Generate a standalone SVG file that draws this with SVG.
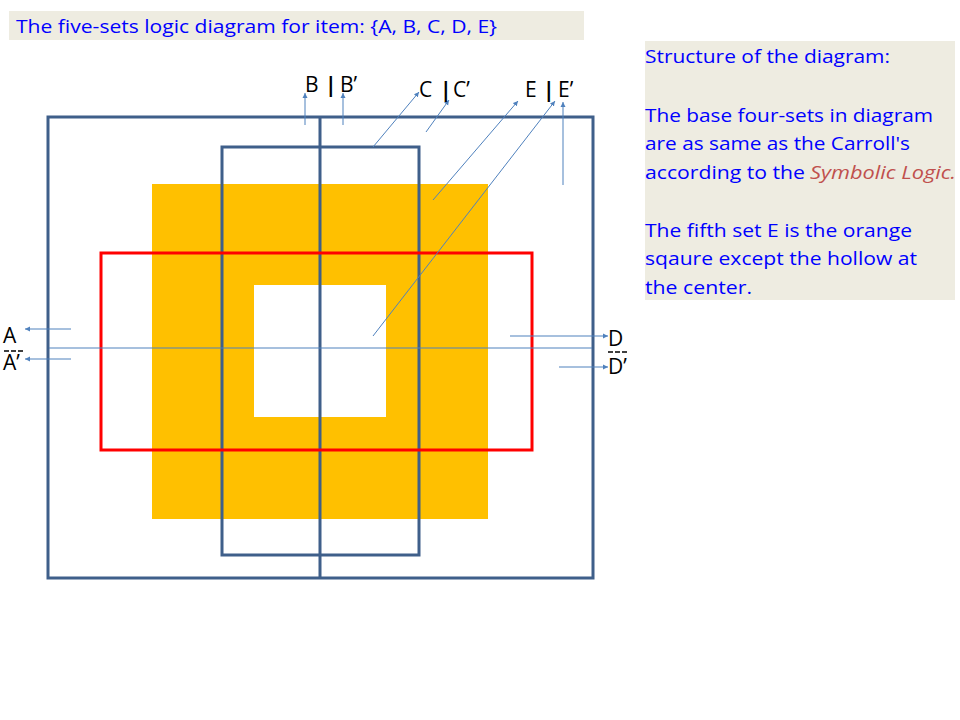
<svg xmlns="http://www.w3.org/2000/svg" width="960" height="720" viewBox="0 0 960 720">
<defs>
<marker id="ah" markerWidth="6" markerHeight="6" refX="5" refY="3" orient="auto" markerUnits="userSpaceOnUse">
<path d="M0,0.5 L5,3 L0,5.5 Z" fill="#4F81BD"/>
</marker>
<style>
.bx{fill:#EEECE1}
.bt{font-family:"Open Sans","Liberation Sans",sans-serif;font-size:19px;fill:#0000FF}
.lb{font-family:"Open Sans","Liberation Sans",sans-serif;font-size:21px;fill:#000}
.sq{fill:none;stroke:#3F5F8A;stroke-width:3}
.ar{stroke:#4F81BD;stroke-width:1;fill:none;marker-end:url(#ah)}
</style>
</defs>
<rect width="960" height="720" fill="#fff"/>
<g id="title">
<rect class="bx" x="9" y="11" width="575" height="29"/>
<text class="bt" x="16" y="33" textLength="481" lengthAdjust="spacingAndGlyphs">The five-sets logic diagram for item: {A, B, C, D, E}</text>
</g>
<g id="note">
<rect class="bx" x="645" y="41" width="310" height="259"/>
<text class="bt" x="645" y="63" textLength="245" lengthAdjust="spacingAndGlyphs">Structure of the diagram:</text>
<text class="bt" x="645" y="122" textLength="288" lengthAdjust="spacingAndGlyphs">The base four-sets in diagram</text>
<text class="bt" x="645" y="150" textLength="265" lengthAdjust="spacingAndGlyphs">are as same as the Carroll's</text>
<text class="bt" x="645" y="179" textLength="160" lengthAdjust="spacingAndGlyphs">according to the</text>
<text class="bt" x="810" y="179" textLength="146" lengthAdjust="spacingAndGlyphs" style="fill:#C0504D;font-style:italic">Symbolic Logic.</text>
<text class="bt" x="645" y="237" textLength="267" lengthAdjust="spacingAndGlyphs">The fifth set E is the orange</text>
<text class="bt" x="645" y="265" textLength="272" lengthAdjust="spacingAndGlyphs">sqaure except the hollow at</text>
<text class="bt" x="645" y="294" textLength="107" lengthAdjust="spacingAndGlyphs">the center.</text>
</g>
<g id="setE">
<path d="M152,184 H488 V519 H152 Z M254,285 V417 H386 V285 Z" fill="#FFC000" fill-rule="evenodd"/>
</g>
<g id="setB">
<rect class="sq" x="48" y="117" width="545" height="461"/>
<line x1="320" y1="117" x2="320" y2="578" stroke="#3F5F8A" stroke-width="3"/>
</g>
<g id="setC">
<rect class="sq" x="222" y="147" width="197" height="408"/>
</g>
<g id="setD">
<rect x="101" y="253" width="431" height="197" fill="none" stroke="#FF0000" stroke-width="3"/>
</g>
<g id="setA">
<line x1="49" y1="348" x2="592" y2="348" stroke="#4F81BD" stroke-width="1"/>
</g>
<g id="connectors">
<line class="ar" x1="305" y1="125" x2="305" y2="93"/>
<line class="ar" x1="343" y1="125" x2="343" y2="93"/>
<line class="ar" x1="373" y1="147" x2="419" y2="92"/>
<line class="ar" x1="426" y1="132" x2="449" y2="100"/>
<line class="ar" x1="433" y1="200" x2="518" y2="101"/>
<line class="ar" x1="373" y1="336" x2="555" y2="101"/>
<line class="ar" x1="563" y1="185" x2="563" y2="102"/>
<line class="ar" x1="71" y1="329" x2="25" y2="329"/>
<line class="ar" x1="71" y1="359" x2="25" y2="359"/>
<line class="ar" x1="510" y1="336" x2="608" y2="336"/>
<line class="ar" x1="559" y1="367" x2="608" y2="367"/>
</g>
<g id="labels">
<text class="lb" x="305" y="92">B</text>
<text class="lb" x="325" y="92" style="font-weight:bold">|</text>
<text class="lb" x="340" y="92">B’</text>
<text class="lb" x="419" y="97">C</text>
<text class="lb" x="440" y="97" style="font-weight:bold">|</text>
<text class="lb" x="453" y="97">C’</text>
<text class="lb" x="525" y="97">E</text>
<text class="lb" x="543" y="97" style="font-weight:bold">|</text>
<text class="lb" x="558" y="97">E’</text>
<text class="lb" x="3" y="343">A</text>
<line x1="4" y1="351" x2="24" y2="351" stroke="#000" stroke-width="1.5" stroke-dasharray="5,2"/>
<text class="lb" x="3" y="370">A’</text>
<text class="lb" x="608" y="346">D</text>
<line x1="608" y1="352" x2="629" y2="352" stroke="#000" stroke-width="1.5" stroke-dasharray="5,2"/>
<text class="lb" x="608" y="374">D’</text>
</g>
</svg>
